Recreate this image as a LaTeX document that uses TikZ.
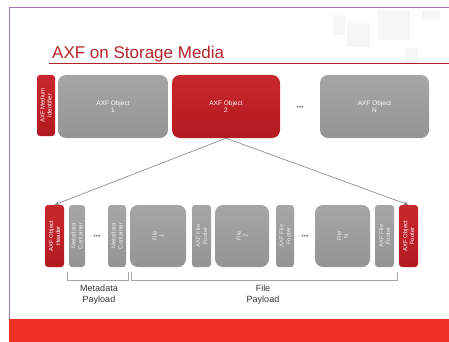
\documentclass[tikz,border=0pt]{standalone}
\usepackage{fontspec}
\setmainfont{Liberation Sans}
\usetikzlibrary{arrows.meta}
\definecolor{axfred}{HTML}{B2191F}
\definecolor{axfredtop}{HTML}{C8282D}
\definecolor{titlered}{HTML}{B5232A}
\definecolor{barred}{HTML}{EE3124}
\definecolor{boxgray}{HTML}{949494}
\definecolor{boxgraytop}{HTML}{A6A6A6}
\definecolor{framepurple}{HTML}{A27BB0}
\definecolor{decogray}{HTML}{F6F6F6}
\tikzset{
  box/.style={inner sep=0pt, align=center, text=white, font=\fontsize{6.5}{7.5}\selectfont},
  graybig/.style={box, rounded corners=8pt, top color=boxgraytop, bottom color=boxgray, draw=none},
  redbig/.style={box, rounded corners=8pt, top color=axfredtop, bottom color=axfred, draw=none},
  graysmall/.style={box, rounded corners=3pt, top color=boxgraytop, bottom color=boxgray, draw=none},
  redsmall/.style={box, rounded corners=3pt, top color=axfredtop, bottom color=axfred, draw=none},
  vtext/.style={rotate=90, font=\fontsize{6}{6.8}\selectfont},
  dots/.style={inner sep=0pt, text=gray, font=\fontsize{7}{7}\selectfont},
  link/.style={draw=gray, line width=0.6pt, -{Stealth[length=5pt,width=3.5pt]}},
  bracket/.style={draw=gray!70, line width=0.8pt},
  plabel/.style={inner sep=0pt, align=center, text=black!80, font=\fontsize{9}{11}\selectfont},
}
\begin{document}
\begin{tikzpicture}[x=1pt,y=-1pt]
\useasboundingbox (0,0) rectangle (449,342);
% decorative squares
\fill[decogray] (347,23) rectangle (370,47);
\fill[decogray] (378,10) rectangle (410,40);
\fill[decogray] (422,10) rectangle (440,20);
\fill[decogray] (405,48) rectangle (418,63);
\fill[decogray] (333,15) rectangle (345,35);
% frame
\draw[framepurple, line width=0.8pt] (9,342) -- (9,7) -- (449,7);
% bottom bar
\fill[barred] (9,319) rectangle (449,342);
% title
\node[anchor=base west, inner sep=0pt, text=titlered, font=\fontsize{17}{20}\selectfont] (title) at (52,59) {AXF on Storage Media};
\draw[titlered, line width=1.6pt] (49,63.5) -- (449,63.5);
% top row
\node[redsmall, minimum width=18pt, minimum height=61pt] (mid) at (46,105.5) {};
\node[vtext, text=white, align=center] at (mid) {AXF Medium\\Identifier};
\node[graybig, minimum width=110pt, minimum height=63pt] (o1) at (113,106.5) {AXF Object\\1};
\node[redbig, minimum width=108pt, minimum height=63pt] (o2) at (226,106.5) {AXF Object\\2};
\node[dots] (d0) at (300,108) {•••};
\node[graybig, minimum width=109pt, minimum height=63pt] (oN) at (374.5,106.5) {AXF Object\\N};
% bottom row
\node[redsmall, minimum width=19pt, minimum height=62pt] (hdr) at (54.5,236) {};
\node[vtext, text=white, align=center] at (hdr) {AXF Object\\Header};
\node[graysmall, minimum width=16pt, minimum height=62pt] (mc1) at (77,236) {};
\node[vtext, text=white!85!gray, align=center] at (mc1) {Metadata\\Container};
\node[dots] (d1) at (97,237) {•••};
\node[graysmall, minimum width=18pt, minimum height=62pt] (mc2) at (117,236) {};
\node[vtext, text=white!85!gray, align=center] at (mc2) {Metadata\\Container};
\node[graybig, minimum width=56pt, minimum height=62pt] (f1) at (158,236) {};
\node[vtext, text=white!85!gray, align=center] at (f1) {File\\1};
\node[graysmall, minimum width=19pt, minimum height=62pt] (ff1) at (201.5,236) {};
\node[vtext, text=white!85!gray, align=center] at (ff1) {AXF File\\Footer};
\node[graybig, minimum width=54pt, minimum height=62pt] (f2) at (242,236) {};
\node[vtext, text=white!85!gray, align=center] at (f2) {File\\2};
\node[graysmall, minimum width=18pt, minimum height=62pt] (ff2) at (285,236) {};
\node[vtext, text=white!85!gray, align=center] at (ff2) {AXF File\\Footer};
\node[dots] (d2) at (305,237) {•••};
\node[graybig, minimum width=55pt, minimum height=62pt] (fN) at (342.5,236) {};
\node[vtext, text=white!85!gray, align=center] at (fN) {File\\N};
\node[graysmall, minimum width=19pt, minimum height=62pt] (ffN) at (384.5,236) {};
\node[vtext, text=white!85!gray, align=center] at (ffN) {AXF File\\Footer};
\node[redsmall, minimum width=19pt, minimum height=62pt] (ftr) at (408.5,236) {};
\node[vtext, text=white, align=center] at (ftr) {AXF Object\\Footer};
% connectors
\draw[link] (o2.south) -- (hdr.north);
\draw[link] (o2.south) -- (ftr.north);
% brackets
\draw[bracket] (67,272) -- (67,280) -- (128,280) -- (128,272);
\draw[bracket] (131,272) -- (131,280) -- (397,280) -- (397,272);
\node[plabel] (mp) at (99,295) {Metadata\\Payload};
\node[plabel] (fp) at (263,295) {File\\Payload};
\end{tikzpicture}
\end{document}
